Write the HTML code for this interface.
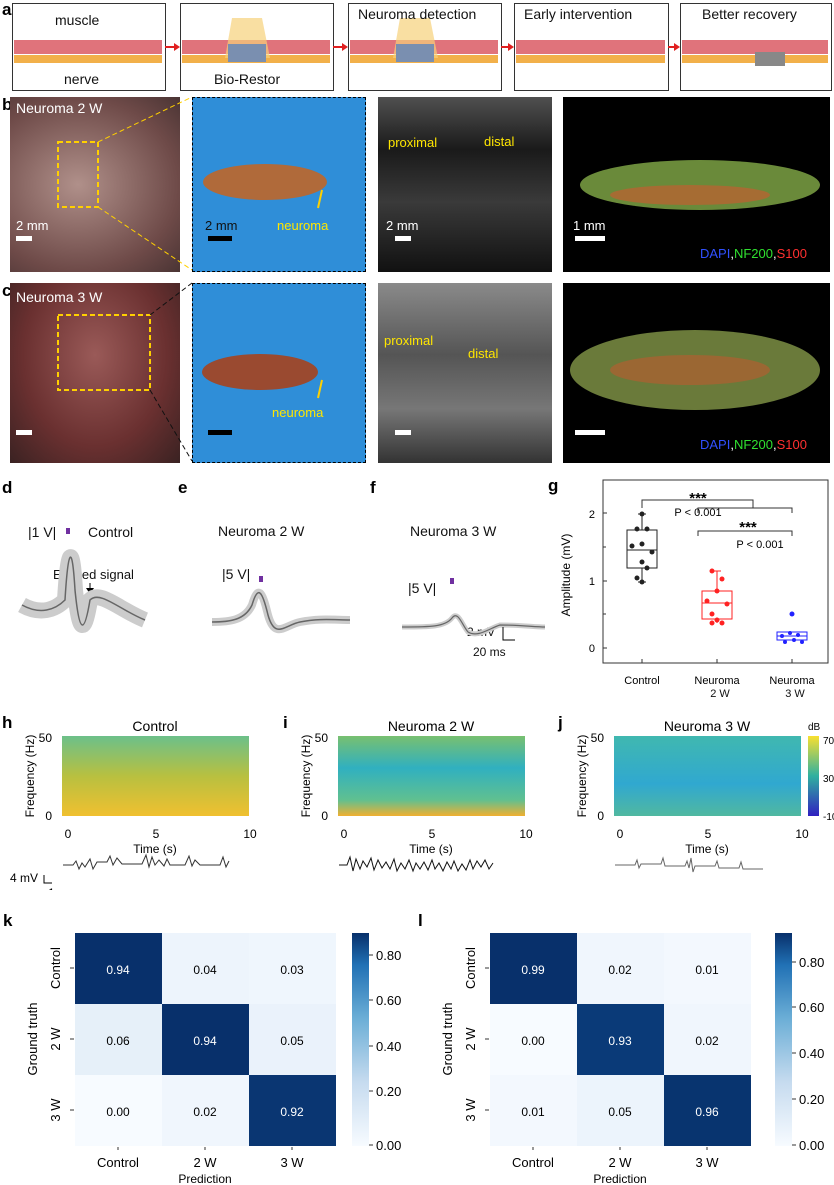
<!DOCTYPE html><html><head><meta charset="utf-8"><style>
body{margin:0;width:834px;height:1185px;background:#fff;position:relative;font-family:"Liberation Sans",Arial,sans-serif;overflow:hidden}
.a{position:absolute}
.L{position:absolute;font-weight:bold;font-size:17px}
.box{position:absolute;border:1px solid #333;background:#fff;top:3px;height:86px}
.t{position:absolute;font-size:13px;color:#111}
.y{color:#ffe600;font-size:13px;position:absolute}
.w{color:#fff;font-size:13px;position:absolute}
</style></head><body>
<!-- a -->
<div class="L" style="left:2px;top:0">a</div>
<div class="box" style="left:12px;width:152px"></div>
<div class="box" style="left:180px;width:152px"></div>
<div class="box" style="left:348px;width:152px"></div>
<div class="box" style="left:514px;width:153px"></div>
<div class="box" style="left:680px;width:150px"></div>
<svg class="a" style="left:0;top:0" width="834" height="95">
<g>
<rect x="14" y="40" width="148" height="14" fill="#d8505a" opacity=".8"/><rect x="14" y="55" width="148" height="8" fill="#f2b04a"/>
<rect x="182" y="40" width="148" height="14" fill="#d8505a" opacity=".8"/><rect x="182" y="55" width="148" height="8" fill="#f2b04a"/>
<rect x="350" y="40" width="148" height="14" fill="#d8505a" opacity=".8"/><rect x="350" y="55" width="148" height="8" fill="#f2b04a"/>
<rect x="516" y="40" width="149" height="14" fill="#d8505a" opacity=".8"/><rect x="516" y="55" width="149" height="8" fill="#f2b04a"/>
<rect x="682" y="40" width="146" height="14" fill="#d8505a" opacity=".8"/><rect x="682" y="55" width="146" height="8" fill="#f2b04a"/>
<polygon points="232,18 262,18 270,58 225,58" fill="#f6d27a" opacity=".7"/><rect x="228" y="44" width="38" height="18" fill="#7a8fb0"/>
<polygon points="400,18 430,18 438,58 393,58" fill="#f6d27a" opacity=".7"/><rect x="396" y="44" width="38" height="18" fill="#7a8fb0"/>
<rect x="755" y="52" width="30" height="14" fill="#888"/>
<path d="M165 47H178M333 47H346M501 47H512M668 47H678" stroke="#e02020" stroke-width="2"/>
<path d="M174 43l6 4-6 4zM342 43l6 4-6 4zM508 43l6 4-6 4zM674 43l6 4-6 4z" fill="#e02020"/>
</g></svg>
<div class="t" style="left:55px;top:12px;font-size:14px">muscle</div>
<div class="t" style="left:64px;top:71px;font-size:14px">nerve</div>
<div class="t" style="left:214px;top:71px;font-size:14px">Bio-Restor</div>
<div class="t" style="left:358px;top:6px;font-size:14px">Neuroma detection</div>
<div class="t" style="left:524px;top:6px;font-size:14px">Early intervention</div>
<div class="t" style="left:702px;top:6px;font-size:14px">Better recovery</div>
<!-- b,c -->
<div class="L" style="left:2px;top:95px">b</div>
<div class="L" style="left:2px;top:281px">c</div>
<div class="a" style="left:10px;top:97px;width:170px;height:175px;background:radial-gradient(ellipse at 40% 50%,#b0908a,#6e4a48 70%,#4a3434)"></div>
<div class="a" style="left:192px;top:97px;width:172px;height:173px;background:#2f8ed8;border:1px dashed #000"></div>
<div class="a" style="left:378px;top:97px;width:174px;height:175px;background:linear-gradient(#505050,#1a1a1a 30%,#3a3a3a 60%,#111)"></div>
<div class="a" style="left:563px;top:97px;width:267px;height:175px;background:#000"></div>
<div class="a" style="left:10px;top:283px;width:170px;height:180px;background:radial-gradient(ellipse at 50% 40%,#9a5a58,#6a3030 60%,#3a2222)"></div>
<div class="a" style="left:192px;top:283px;width:172px;height:178px;background:#2f8ed8;border:1px dashed #000"></div>
<div class="a" style="left:378px;top:283px;width:174px;height:180px;background:linear-gradient(#8a8a8a,#555 40%,#777 70%,#333)"></div>
<div class="a" style="left:563px;top:283px;width:267px;height:180px;background:#000"></div>
<svg class="a" style="left:0;top:0" width="834" height="470">
<rect x="58" y="142" width="40" height="65" fill="none" stroke="#ffd000" stroke-width="2" stroke-dasharray="5,3"/>
<rect x="58" y="315" width="92" height="75" fill="none" stroke="#ffd000" stroke-width="2" stroke-dasharray="5,3"/>
<path d="M98 142L192 97M98 207L192 270" stroke="#ffd000" stroke-dasharray="5,3"/>
<path d="M150 315L192 283M150 390L192 461" stroke="#111" stroke-dasharray="5,3"/>
<ellipse cx="265" cy="182" rx="62" ry="18" fill="#b06a3a"/><ellipse cx="260" cy="372" rx="58" ry="18" fill="#9a4a30"/>
<ellipse cx="700" cy="185" rx="120" ry="25" fill="#6a8a3a"/><ellipse cx="690" cy="195" rx="80" ry="10" fill="#c06030" opacity=".7"/>
<ellipse cx="695" cy="370" rx="125" ry="40" fill="#6a7a3a"/><ellipse cx="690" cy="370" rx="80" ry="15" fill="#b06030" opacity=".7"/>
<path d="M318 208L322 190" stroke="#ffd000" stroke-width="2"/><path d="M318 398L322 380" stroke="#ffd000" stroke-width="2"/>
<rect x="16" y="236" width="16" height="5" fill="#fff"/><rect x="208" y="236" width="24" height="5" fill="#000"/><rect x="395" y="236" width="16" height="5" fill="#fff"/><rect x="575" y="236" width="30" height="5" fill="#fff"/>
<rect x="16" y="430" width="16" height="5" fill="#fff"/><rect x="208" y="430" width="24" height="5" fill="#000"/><rect x="395" y="430" width="16" height="5" fill="#fff"/><rect x="575" y="430" width="30" height="5" fill="#fff"/>
</svg>
<div class="w" style="left:16px;top:100px;font-size:14px">Neuroma 2 W</div>
<div class="w" style="left:16px;top:289px;font-size:14px">Neuroma 3 W</div>
<div class="w" style="left:16px;top:218px">2 mm</div>
<div class="t" style="left:205px;top:218px">2 mm</div>
<div class="w" style="left:386px;top:218px">2 mm</div>
<div class="w" style="left:573px;top:218px">1 mm</div>
<div class="y" style="left:277px;top:218px">neuroma</div>
<div class="y" style="left:272px;top:405px">neuroma</div>
<div class="y" style="left:388px;top:135px">proximal</div><div class="y" style="left:484px;top:134px">distal</div>
<div class="y" style="left:384px;top:333px">proximal</div><div class="y" style="left:468px;top:346px">distal</div>
<div class="a" style="left:700px;top:246px;font-size:13px"><span style="color:#3050ff">DAPI</span><span style="color:#fff">,</span><span style="color:#30e030">NF200</span><span style="color:#fff">,</span><span style="color:#ff3030">S100</span></div>
<div class="a" style="left:700px;top:437px;font-size:13px"><span style="color:#3050ff">DAPI</span><span style="color:#fff">,</span><span style="color:#30e030">NF200</span><span style="color:#fff">,</span><span style="color:#ff3030">S100</span></div>
<!-- d e f -->
<div class="L" style="left:2px;top:478px">d</div><div class="L" style="left:178px;top:478px">e</div><div class="L" style="left:370px;top:478px">f</div>
<div class="t" style="left:28px;top:524px;font-size:14px">|1 V|</div><div class="t" style="left:88px;top:524px;font-size:14px">Control</div>
<div class="t" style="left:53px;top:567px">Evoked signal</div>
<div class="t" style="left:218px;top:523px;font-size:14px">Neuroma 2 W</div>
<div class="t" style="left:222px;top:566px;font-size:14px">|5 V|</div>
<div class="t" style="left:410px;top:523px;font-size:14px">Neuroma 3 W</div>
<div class="t" style="left:408px;top:580px;font-size:14px">|5 V|</div>
<div class="t" style="left:467px;top:625px;font-size:12px">2 mV</div><div class="t" style="left:473px;top:645px;font-size:12px">20 ms</div>
<svg class="a" style="left:0;top:470px" width="560" height="200">
<rect x="66" y="58" width="4" height="6" fill="#7030a0"/><rect x="259" y="106" width="4" height="6" fill="#7030a0"/><rect x="450" y="108" width="4" height="6" fill="#7030a0"/>
<path d="M90 113v10" stroke="#000"/><path d="M86 118l4 6 4-6" fill="#000"/>
<path d="M22 135 C40 145 55 140 65 130 C68 80 72 70 75 120 C80 170 85 160 90 130 C100 120 120 140 145 150" stroke="#ccc" stroke-width="16" fill="none"/>
<path d="M22 135 C40 145 55 140 65 130 C68 80 72 70 75 120 C80 170 85 160 90 130 C100 120 120 140 145 150" stroke="#666" stroke-width="1.5" fill="none"/>
<path d="M212 152 C230 152 245 150 252 135 C258 115 262 120 268 145 C275 170 285 155 300 152 C320 148 335 150 350 150" stroke="#ccc" stroke-width="8" fill="none"/>
<path d="M212 152 C230 152 245 150 252 135 C258 115 262 120 268 145 C275 170 285 155 300 152 C320 148 335 150 350 150" stroke="#666" stroke-width="1.5" fill="none"/>
<path d="M402 157 C430 157 445 157 452 148 C458 140 462 155 468 162 C478 168 490 158 500 155 C520 155 535 157 545 157" stroke="#ccc" stroke-width="5" fill="none"/>
<path d="M402 157 C430 157 445 157 452 148 C458 140 462 155 468 162 C478 168 490 158 500 155 C520 155 535 157 545 157" stroke="#666" stroke-width="1.2" fill="none"/>
<path d="M503 157V170H515" stroke="#000" fill="none"/>
</svg>
<!-- g -->
<div class="L" style="left:548px;top:476px">g</div>
<svg class="a" style="left:550px;top:470px" width="284" height="215" font-family="Liberation Sans" font-size="11">
<rect x="53" y="10" width="225" height="183" fill="none" stroke="#333"/>
<g stroke="#333"><path d="M53 178h4M53 144h3M53 111h4M53 77h3M53 43h4M92 193v-4M167 193v-4M242 193v-4"/></g>
<text x="45" y="182" text-anchor="end">0</text><text x="45" y="115" text-anchor="end">1</text><text x="45" y="48" text-anchor="end">2</text>
<text x="20" y="105" transform="rotate(-90 20 105)" text-anchor="middle" font-size="12">Amplitude (mV)</text>
<text x="92" y="214" text-anchor="middle">Control</text><text x="167" y="214" text-anchor="middle">Neuroma</text><text x="242" y="214" text-anchor="middle">Neuroma</text>
<path d="M92 38V30H203V38M148 43V38H242V43M148 66V61H242V66" stroke="#333" fill="none"/>
<text x="148" y="33" text-anchor="middle" font-size="15" font-weight="bold">***</text>
<text x="148" y="46" text-anchor="middle">P &lt; 0.001</text>
<text x="198" y="62" text-anchor="middle" font-size="15" font-weight="bold">***</text>
<text x="210" y="78" text-anchor="middle">P &lt; 0.001</text>
<g stroke="#222" fill="none"><rect x="77" y="60" width="30" height="38"/><path d="M77 80h30M92 44v16M92 98v14M88 44h8M88 112h8"/></g>
<g fill="#222"><circle cx="92" cy="44" r="2.5"/><circle cx="87" cy="59" r="2.5"/><circle cx="97" cy="59" r="2.5"/><circle cx="82" cy="76" r="2.5"/><circle cx="92" cy="74" r="2.5"/><circle cx="102" cy="82" r="2.5"/><circle cx="92" cy="92" r="2.5"/><circle cx="97" cy="98" r="2.5"/><circle cx="87" cy="108" r="2.5"/><circle cx="92" cy="112" r="2.5"/></g>
<g stroke="#f22" fill="none"><rect x="152" y="121" width="30" height="28"/><path d="M152 133h30M167 101v20M163 101h8M167 149v4"/></g>
<g fill="#f22"><circle cx="162" cy="101" r="2.5"/><circle cx="172" cy="109" r="2.5"/><circle cx="167" cy="121" r="2.5"/><circle cx="157" cy="131" r="2.5"/><circle cx="177" cy="134" r="2.5"/><circle cx="162" cy="144" r="2.5"/><circle cx="167" cy="150" r="2.5"/><circle cx="172" cy="153" r="2.5"/><circle cx="162" cy="153" r="2.5"/></g>
<g stroke="#22f" fill="none"><rect x="227" y="162" width="30" height="8"/><path d="M227 166h30"/></g>
<g fill="#22f"><circle cx="242" cy="144" r="2.5"/><circle cx="232" cy="166" r="2"/><circle cx="240" cy="163" r="2"/><circle cx="248" cy="165" r="2"/><circle cx="235" cy="172" r="2"/><circle cx="252" cy="172" r="2"/><circle cx="244" cy="170" r="2"/></g>
</svg>
<div class="t" style="left:695px;top:688px;font-size:11px;width:50px;text-align:center">2 W</div>
<div class="t" style="left:770px;top:688px;font-size:11px;width:50px;text-align:center">3 W</div>
<!-- h i j -->
<svg width="0" height="0" style="position:absolute"><defs>
<linearGradient id="s1" x1="0" y1="0" x2="0" y2="1"><stop offset="0" stop-color="#6cc08a"/><stop offset=".5" stop-color="#b8c040"/><stop offset="1" stop-color="#f0c030"/></linearGradient>
<linearGradient id="s2" x1="0" y1="0" x2="0" y2="1"><stop offset="0" stop-color="#78c070"/><stop offset=".4" stop-color="#30b0c0"/><stop offset=".8" stop-color="#60c090"/><stop offset="1" stop-color="#f0b030"/></linearGradient>
<linearGradient id="s3" x1="0" y1="0" x2="0" y2="1"><stop offset="0" stop-color="#40b8b0"/><stop offset=".6" stop-color="#30a8d0"/><stop offset="1" stop-color="#50b8a0"/></linearGradient>
<linearGradient id="cb" x1="0" y1="0" x2="0" y2="1"><stop offset="0" stop-color="#f9e030"/><stop offset=".5" stop-color="#30b0a0"/><stop offset="1" stop-color="#3020c0"/></linearGradient>
</defs></svg>
<div class="L" style="left:2px;top:713px">h</div><div class="L" style="left:283px;top:713px">i</div><div class="L" style="left:558px;top:713px">j</div>
<svg class="a" style="left:0;top:700px" width="834" height="190" font-family="Liberation Sans" font-size="12">
<g>
<text x="155" y="31" text-anchor="middle" font-size="14">Control</text>
<rect x="62" y="36" width="187" height="80" fill="url(#s1)"/>
<text x="52" y="42" text-anchor="end">50</text><text x="52" y="120" text-anchor="end">0</text>
<text x="34" y="76" transform="rotate(-90 34 76)" text-anchor="middle">Frequency (Hz)</text>
<text x="68" y="138" text-anchor="middle">0</text><text x="156" y="138" text-anchor="middle">5</text><text x="250" y="138" text-anchor="middle">10</text>
<text x="155" y="153" text-anchor="middle">Time (s)</text>
<path d="M63 165h10l3-4 3 8 3-6 3 4 5-8 3 10 4-7h10l3-6 3 9 4-7 5 6h20l4-9 3 12 3-10 3 8 4-5 5 6 3-7 3 6h15l4-9 3 10 3-6 5 5h20l3-8 3 10 3-6" stroke="#333" fill="none"/>
</g>
<g transform="translate(276,0)">
<text x="155" y="31" text-anchor="middle" font-size="14">Neuroma 2 W</text>
<rect x="62" y="36" width="187" height="80" fill="url(#s2)"/>
<text x="52" y="42" text-anchor="end">50</text><text x="52" y="120" text-anchor="end">0</text>
<text x="34" y="76" transform="rotate(-90 34 76)" text-anchor="middle">Frequency (Hz)</text>
<text x="68" y="138" text-anchor="middle">0</text><text x="156" y="138" text-anchor="middle">5</text><text x="250" y="138" text-anchor="middle">10</text>
<text x="155" y="153" text-anchor="middle">Time (s)</text>
<path d="M63 165h8l3-8 3 14 3-12 4 10 3-8 4 6 4-9 3 12 4-10 4 8 4-6 4 7 4-10 3 12 4-8 4 6 4-9 4 11 3-8 4 6 4-7 4 8 4-10 3 9 4-6 4 8 4-9 4 7 3-8 4 10 4-7 4 6 4-10 3 9 4-8 4 6 4-7 4 9 4-6" stroke="#111" fill="none"/>
</g>
<g transform="translate(552,0)">
<text x="155" y="31" text-anchor="middle" font-size="14">Neuroma 3 W</text>
<rect x="62" y="36" width="187" height="80" fill="url(#s3)"/>
<text x="52" y="42" text-anchor="end">50</text><text x="52" y="120" text-anchor="end">0</text>
<text x="34" y="76" transform="rotate(-90 34 76)" text-anchor="middle">Frequency (Hz)</text>
<text x="68" y="138" text-anchor="middle">0</text><text x="156" y="138" text-anchor="middle">5</text><text x="250" y="138" text-anchor="middle">10</text>
<text x="155" y="153" text-anchor="middle">Time (s)</text>
<path d="M63 165h20l2-5 2 8 2-4h20l2-6 2 8h20l2-5 2 7 2-10 2 14 2-6h20l2-5 2 7h20l2-6 2 7h20" stroke="#666" fill="none"/>
</g>
<rect x="808" y="36" width="11" height="80" fill="url(#cb)"/>
<text x="808" y="30" font-size="10">dB</text><text x="823" y="44" font-size="10">70</text><text x="823" y="82" font-size="10">30</text><text x="823" y="120" font-size="10">-10</text>
<path d="M44 175v8h8" stroke="#000" fill="none"/><text x="10" y="182">4 mV</text><text x="48" y="197">1 s</text>
</svg>
<!-- k l -->
<div class="L" style="left:3px;top:911px">k</div><div class="L" style="left:418px;top:911px">l</div>
<svg class="a" style="left:0;top:925px" width="834" height="260" font-family="Liberation Sans" font-size="12">
<defs><linearGradient id="bl" x1="0" y1="1" x2="0" y2="0"><stop offset="0" stop-color="#f7fbff"/><stop offset=".3" stop-color="#c6dbef"/><stop offset=".6" stop-color="#6baed6"/><stop offset=".85" stop-color="#2171b5"/><stop offset="1" stop-color="#08306b"/></linearGradient></defs>
<g>
<rect x="75" y="8" width="87" height="71" fill="#08306b"/><rect x="162" y="8" width="87" height="71" fill="#edf4fc"/><rect x="249" y="8" width="87" height="71" fill="#eff6fd"/>
<rect x="75" y="79" width="87" height="71" fill="#e6f0f9"/><rect x="162" y="79" width="87" height="71" fill="#08306b"/><rect x="249" y="79" width="87" height="71" fill="#eaf2fb"/>
<rect x="75" y="150" width="87" height="71" fill="#f7fbff"/><rect x="162" y="150" width="87" height="71" fill="#f0f6fd"/><rect x="249" y="150" width="87" height="71" fill="#0a3672"/>
<g text-anchor="middle"><text x="118" y="49" fill="#fff">0.94</text><text x="205" y="49">0.04</text><text x="292" y="49">0.03</text>
<text x="118" y="120">0.06</text><text x="205" y="120" fill="#fff">0.94</text><text x="292" y="120">0.05</text>
<text x="118" y="191">0.00</text><text x="205" y="191">0.02</text><text x="292" y="191" fill="#fff">0.92</text>
<text x="118" y="242" font-size="13">Control</text><text x="205" y="242" font-size="13">2 W</text><text x="292" y="242" font-size="13">3 W</text>
<text x="205" y="258">Prediction</text>
<text x="60" y="43" transform="rotate(-90 60 43)" font-size="13">Control</text><text x="60" y="114" transform="rotate(-90 60 114)" font-size="13">2 W</text><text x="60" y="185" transform="rotate(-90 60 185)" font-size="13">3 W</text>
<text x="37" y="114" transform="rotate(-90 37 114)" font-size="13">Ground truth</text></g>
<path d="M70 43h4M70 114h4M70 185h4M118 222v3M205 222v3M292 222v3" stroke="#333"/>
<rect x="352" y="8" width="17" height="213" fill="url(#bl)"/>
<path d="M369 30h4M369 75h4M369 121h4M369 166h4M369 220h4" stroke="#333"/>
<g font-size="13"><text x="376" y="35">0.80</text><text x="376" y="80">0.60</text><text x="376" y="126">0.40</text><text x="376" y="171">0.20</text><text x="376" y="225">0.00</text></g>
</g>
<g transform="translate(415,0)">
<rect x="75" y="8" width="87" height="71" fill="#08306b"/><rect x="162" y="8" width="87" height="71" fill="#f0f6fd"/><rect x="249" y="8" width="87" height="71" fill="#f3f8fe"/>
<rect x="75" y="79" width="87" height="71" fill="#f7fbff"/><rect x="162" y="79" width="87" height="71" fill="#0a3a78"/><rect x="249" y="79" width="87" height="71" fill="#f0f6fd"/>
<rect x="75" y="150" width="87" height="71" fill="#f3f8fe"/><rect x="162" y="150" width="87" height="71" fill="#ecf4fc"/><rect x="249" y="150" width="87" height="71" fill="#08346f"/>
<g text-anchor="middle"><text x="118" y="49" fill="#fff">0.99</text><text x="205" y="49">0.02</text><text x="292" y="49">0.01</text>
<text x="118" y="120">0.00</text><text x="205" y="120" fill="#fff">0.93</text><text x="292" y="120">0.02</text>
<text x="118" y="191">0.01</text><text x="205" y="191">0.05</text><text x="292" y="191" fill="#fff">0.96</text>
<text x="118" y="242" font-size="13">Control</text><text x="205" y="242" font-size="13">2 W</text><text x="292" y="242" font-size="13">3 W</text>
<text x="205" y="258">Prediction</text>
<text x="60" y="43" transform="rotate(-90 60 43)" font-size="13">Control</text><text x="60" y="114" transform="rotate(-90 60 114)" font-size="13">2 W</text><text x="60" y="185" transform="rotate(-90 60 185)" font-size="13">3 W</text>
<text x="37" y="114" transform="rotate(-90 37 114)" font-size="13">Ground truth</text></g>
<path d="M70 43h4M70 114h4M70 185h4M118 222v3M205 222v3M292 222v3" stroke="#333"/>
<rect x="360" y="8" width="17" height="213" fill="url(#bl)"/>
<path d="M377 37h4M377 82h4M377 128h4M377 174h4M377 220h4" stroke="#333"/>
<g font-size="13"><text x="384" y="42">0.80</text><text x="384" y="87">0.60</text><text x="384" y="133">0.40</text><text x="384" y="179">0.20</text><text x="384" y="225">0.00</text></g>
</g>
</svg>
</body></html>
